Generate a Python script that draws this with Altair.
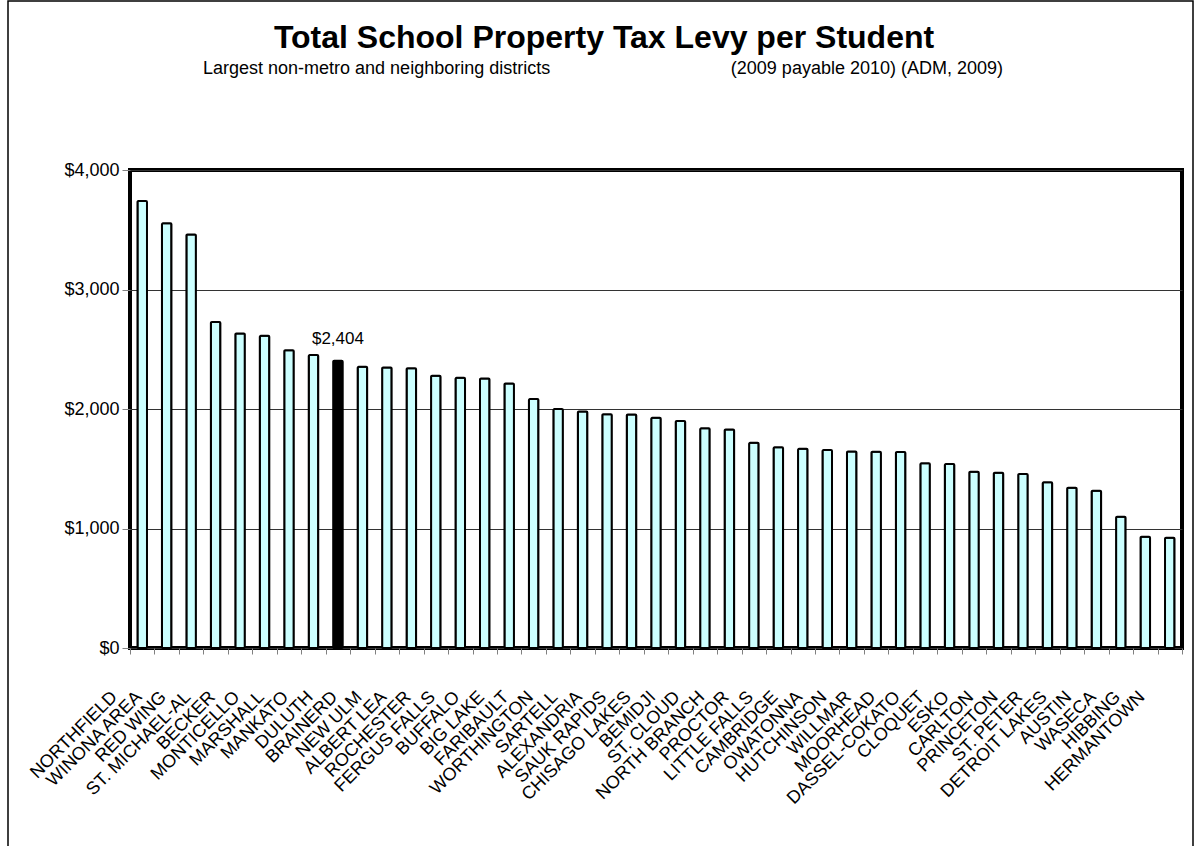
import altair as alt
import pandas as pd

districts = [
    "NORTHFIELD", "WINONA AREA", "RED WING", "ST. MICHAEL-AL", "BECKER",
    "MONTICELLO", "MARSHALL", "MANKATO", "DULUTH", "BRAINERD", "NEW ULM",
    "ALBERT LEA", "ROCHESTER", "FERGUS FALLS", "BUFFALO", "BIG LAKE",
    "FARIBAULT", "WORTHINGTON", "SARTELL", "ALEXANDRIA", "SAUK RAPIDS",
    "CHISAGO LAKES", "BEMIDJI", "ST. CLOUD", "NORTH BRANCH", "PROCTOR",
    "LITTLE FALLS", "CAMBRIDGE", "OWATONNA", "HUTCHINSON", "WILLMAR",
    "MOORHEAD", "DASSEL-COKATO", "CLOQUET", "ESKO", "CARLTON", "PRINCETON",
    "ST. PETER", "DETROIT LAKES", "AUSTIN", "WASECA", "HIBBING", "HERMANTOWN",
]
levy = [
    3741, 3554, 3460, 2729, 2632,
    2612, 2492, 2451, 2404, 2353, 2348,
    2342, 2278, 2261, 2256, 2214,
    2083, 1999, 1980, 1957, 1955,
    1926, 1900, 1838, 1829, 1717,
    1679, 1667, 1656, 1645, 1642,
    1640, 1545, 1539, 1475, 1467, 1456,
    1386, 1341, 1316, 1099, 931, 923,
]
highlight = "DULUTH"
y_ticks = [0, 1000, 2000, 3000, 4000]

title_text = "Total School Property Tax Levy per Student"
subtitle_left = "Largest non-metro and neighboring districts"
subtitle_right = "(2009 payable 2010)  (ADM, 2009)"

FONT = "Liberation Sans"

df = pd.DataFrame({"district": districts, "levy": levy})
df["hl"] = df["district"] == highlight

x_enc = alt.X(
    "district:N",
    sort=districts,
    title=None,
    scale=alt.Scale(paddingInner=0, paddingOuter=0),
    axis=alt.Axis(
        labelAngle=-45,
        labelAlign="right",
        labelBaseline="middle",
        labelFont=FONT,
        labelFontSize=18,
        labelColor="black",
        labelOffset=-28,
        labelPadding=40,
        labelOverlap=False,
        labelLimit=0,
        tickBand="extent",
        tickSize=6,
        tickColor="#808080",
        domain=False,
        grid=False,
    ),
)
y_enc = alt.Y(
    "levy:Q",
    title=None,
    scale=alt.Scale(domain=[0, 4000], nice=False),
    axis=alt.Axis(
        values=y_ticks,
        format="$,.0f",
        labelFont=FONT,
        labelFontSize=18,
        labelColor="black",
        labelPadding=3,
        tickSize=8,
        tickColor="#808080",
        grid=True,
        gridColor="#333333",
        gridWidth=1,
        domain=False,
    ),
)

frame = alt.Chart(pd.DataFrame({"k": [0]})).mark_rect(
    fillOpacity=0, stroke="black", strokeWidth=1.5
).encode(
    x=alt.value(-122), x2=alt.value(1063), y=alt.value(-169), y2=alt.value(720)
)

bars = alt.Chart(df).mark_bar(
    size=9.5, stroke="black", strokeWidth=2, cornerRadius=1
).encode(
    x=x_enc,
    y=y_enc,
    fill=alt.condition(f"datum.district == '{highlight}'", alt.value("black"), alt.value("#CCFFFF")),
)

value_label = alt.Chart(df[df["hl"]]).mark_text(
    font=FONT, fontSize=17, color="black", baseline="alphabetic", dy=-17
).encode(
    x=x_enc,
    y=y_enc,
    text=alt.Text("levy:Q", format="$,.0f"),
)

title = alt.Chart(pd.DataFrame({"t": [title_text]})).mark_text(
    font=FONT, fontSize=32, fontWeight="bold", color="black", align="center", baseline="alphabetic"
).encode(text="t:N", x=alt.value(474), y=alt.value(-122))

sub_l = alt.Chart(pd.DataFrame({"t": [subtitle_left]})).mark_text(
    font=FONT, fontSize=18, color="black", align="left", baseline="alphabetic"
).encode(text="t:N", x=alt.value(73), y=alt.value(-96))

sub_r = alt.Chart(pd.DataFrame({"t": [subtitle_right]})).mark_text(
    font=FONT, fontSize=18, color="black", align="right", baseline="alphabetic"
).encode(text="t:N", x=alt.value(873), y=alt.value(-96))

chart = alt.layer(frame, bars, value_label, title, sub_l, sub_r).properties(
    width=1052,
    height=478,
    padding={"left": 130, "top": 170, "right": 19, "bottom": 198},
    autosize=alt.AutoSizeParams(type="none"),
    background="white",
).configure_view(stroke="black", strokeWidth=4)

chart.save("out.html", embed_options={"renderer": "svg", "actions": False})
